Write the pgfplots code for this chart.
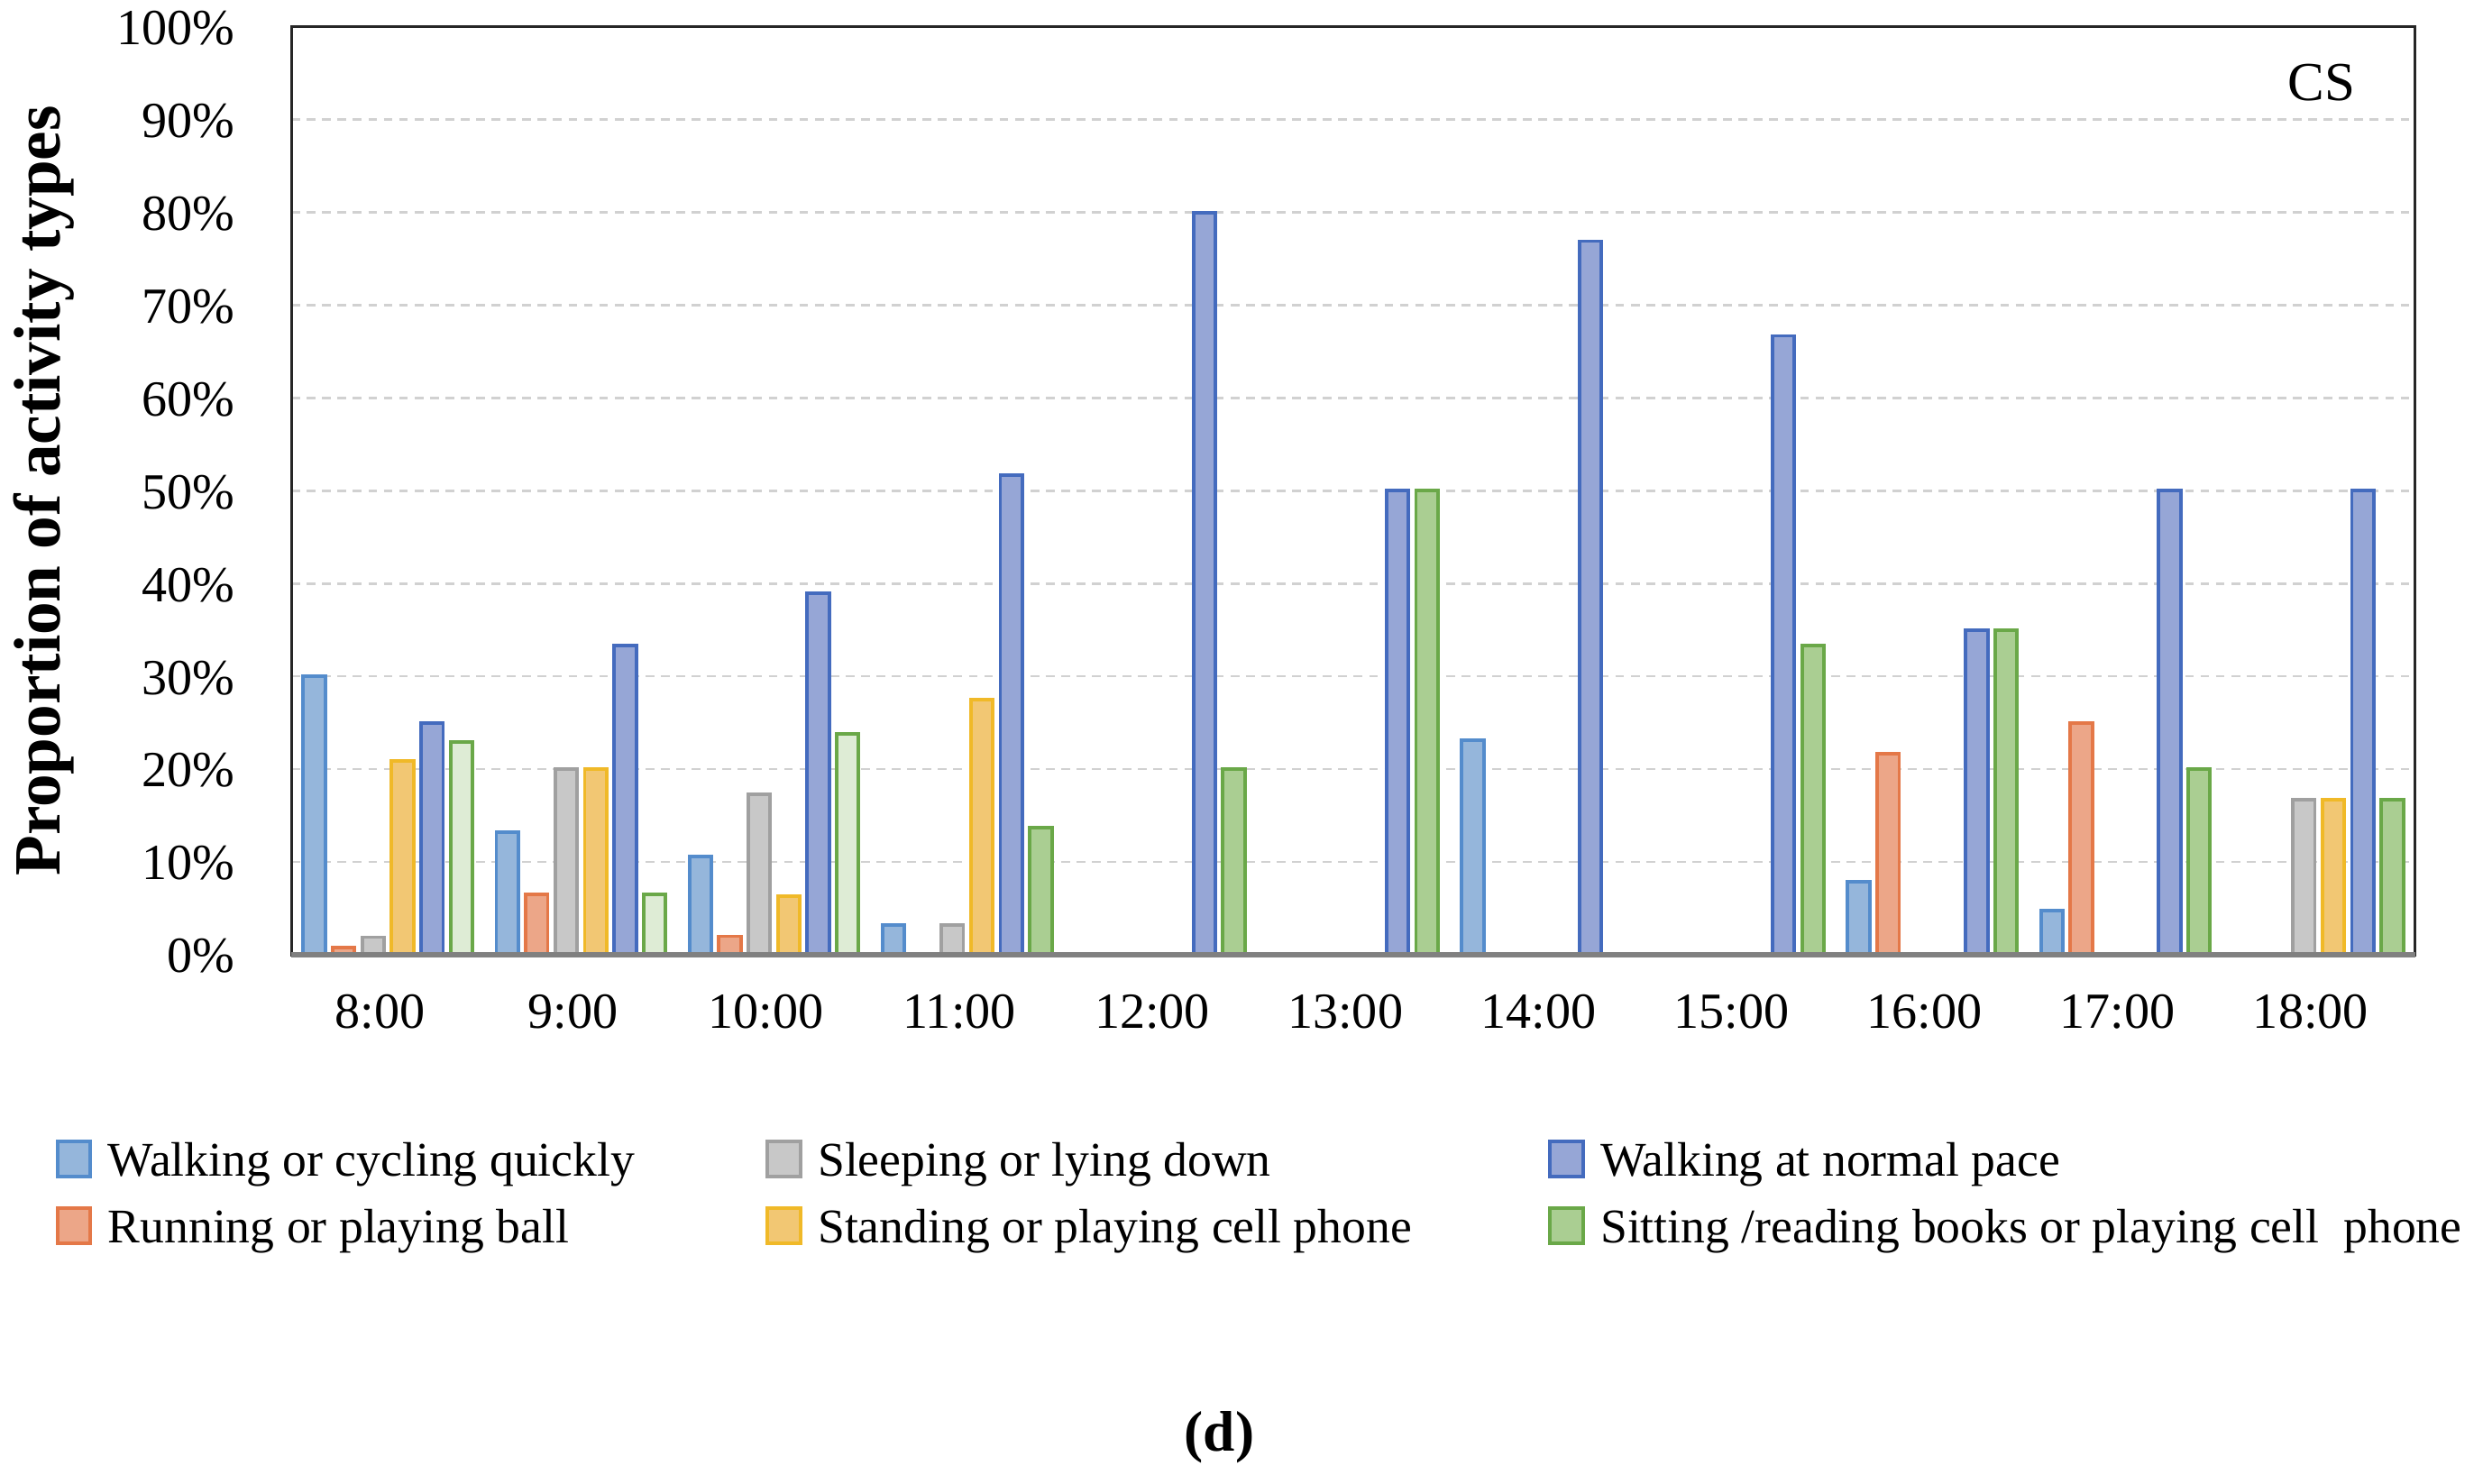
\documentclass[border=0pt]{standalone}
\usepackage{fontspec}
\setmainfont{Liberation Serif}
\usepackage{pgfplots}
\pgfplotsset{compat=1.18}
\definecolor{qF}{RGB}{149,182,219}\definecolor{qL}{RGB}{84,140,204}
\definecolor{rF}{RGB}{236,166,136}\definecolor{rL}{RGB}{228,120,72}
\definecolor{sF}{RGB}{200,200,200}\definecolor{sL}{RGB}{160,160,160}
\definecolor{tF}{RGB}{242,199,115}\definecolor{tL}{RGB}{240,185,40}
\definecolor{nF}{RGB}{150,166,214}\definecolor{nL}{RGB}{68,107,190}
\definecolor{gF}{RGB}{170,206,146}\definecolor{gL}{RGB}{106,168,72}
\definecolor{gLF}{RGB}{222,236,213}
\pgfplotsset{mylegend/.style={legend image code/.code={\draw[line width=0.8pt,##1] (0pt,-3.2pt) rectangle (7.5pt,4.8pt);}}}
\begin{document}
\begin{tikzpicture}
\path[use as bounding box] (-66.24pt,-120.24pt) rectangle (498.24pt,217.08pt);
\begin{axis}[
 at={(0pt,0pt)}, anchor=south west,
 scale only axis, width=482.8pt, height=211pt,
 xmin=-0.5, xmax=10.5, ymin=0, ymax=100,
 xtick={0,...,10},
 xticklabels={8:00,9:00,10:00,11:00,12:00,13:00,14:00,15:00,16:00,17:00,18:00},
 ytick={0,10,...,100},
 yticklabels={0\%,10\%,20\%,30\%,40\%,50\%,60\%,70\%,80\%,90\%,100\%},
 /pgf/number format/assume math mode=true,
 major tick length=0pt,
 axis line style={draw=black!85, line width=0.6pt},
 ymajorgrids,
 major grid style={draw=black!18, dash pattern=on 2pt off 1.5pt, line width=0.5pt},
 tick label style={font=\fontsize{11.5}{13}\selectfont},
 yticklabel style={anchor=east, xshift=-9.4pt, yshift=-0.3pt},
 xticklabel style={anchor=north, yshift=-5.5pt, xshift=-1.8pt},
 ylabel={Proportion of activity types},
 ylabel style={at={(axis description cs:-0.1164,0.5)}, anchor=center, font=\fontsize{15}{18}\selectfont\bfseries},
 legend columns=3,
 legend cell align=left,
 legend style={at={(axis description cs:-0.111,-0.199)}, anchor=north west, draw=none, fill=none,
   inner sep=0pt, outer sep=0pt, column sep=0pt, row sep=5.4pt,
   font=\fontsize{11}{13}\selectfont, nodes={inner sep=0pt, outer sep=0pt}},
 clip=false,
 every axis plot/.append style={ybar, bar width=5pt, line width=0.8pt, forget plot},
]
% Walking or cycling quickly
\addplot[fill=qF, draw=qL, bar shift=-16.75pt] coordinates {(0,30) (1,13.2) (2,10.6) (3,3.2) (6,23.1) (8,7.9) (9,4.8)};
% Running or playing ball
\addplot[fill=rF, draw=rL, bar shift=-10.05pt] coordinates {(0,0.8) (1,6.5) (2,2) (8,21.7) (9,25)};
% Sleeping or lying down
\addplot[fill=sF, draw=sL, bar shift=-3.35pt] coordinates {(0,1.9) (1,20) (2,17.3) (3,3.2) (10,16.7)};
% Standing or playing cell phone
\addplot[fill=tF, draw=tL, bar shift=3.35pt] coordinates {(0,20.9) (1,20) (2,6.3) (3,27.5) (10,16.7)};
% Walking at normal pace
\addplot[fill=nF, draw=nL, bar shift=10.05pt] coordinates {(0,25) (1,33.3) (2,39) (3,51.7) (4,80) (5,50) (6,76.9) (7,66.7) (8,35) (9,50) (10,50)};
% Sitting /reading books or playing cell phone (light fill)
\addplot[fill=gLF, draw=gL, bar shift=16.75pt] coordinates {(0,22.9) (1,6.5) (2,23.8)};
% Sitting /reading books or playing cell phone
\addplot[fill=gF, draw=gL, bar shift=16.75pt] coordinates {(3,13.7) (4,20) (5,50) (7,33.3) (8,35) (9,20) (10,16.7)};

\addlegendimage{mylegend, fill=qF, draw=qL}
\addlegendentry{\hspace*{3.6pt}\makebox[149.5pt][l]{Walking or cycling quickly}}
\addlegendimage{mylegend, fill=sF, draw=sL}
\addlegendentry{\hspace*{3.6pt}\makebox[166pt][l]{Sleeping or lying down}}
\addlegendimage{mylegend, fill=nF, draw=nL}
\addlegendentry{\hspace*{3.6pt}Walking at normal pace}
\addlegendimage{mylegend, fill=rF, draw=rL}
\addlegendentry{\hspace*{3.6pt}\makebox[149.5pt][l]{Running or playing ball}}
\addlegendimage{mylegend, fill=tF, draw=tL}
\addlegendentry{\hspace*{3.6pt}\makebox[166pt][l]{Standing or playing cell phone}}
\addlegendimage{mylegend, fill=gF, draw=gL}
\addlegendentry{\hspace*{3.6pt}Sitting /reading books or playing cell\ \ phone}

\draw[color=black!50, line width=1.1pt] (axis description cs:0,0) -- (axis description cs:1,0);
\node[font=\fontsize{12.5}{14}\selectfont] at (axis description cs:0.956,0.940) {CS};
\node[font=\fontsize{13}{15}\selectfont\bfseries] at (axis description cs:0.437,-0.52) {(d)};
\end{axis}
\end{tikzpicture}
\end{document}
